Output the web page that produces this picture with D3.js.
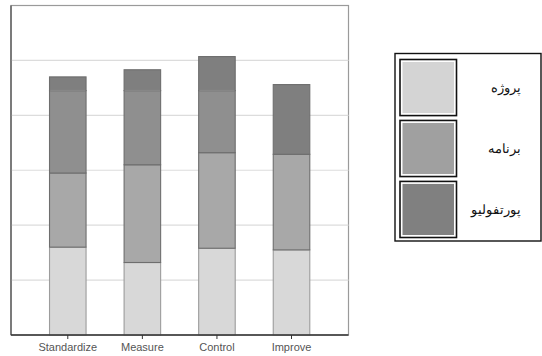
<!DOCTYPE html>
<html>
<head>
<meta charset="utf-8">
<script src="https://cdn.jsdelivr.net/npm/d3@7/dist/d3.min.js"></script>
<style>
  html, body { margin: 0; padding: 0; background: #fff; }
  svg { display: block; }
</style>
</head>
<body>
<svg id="chart" width="542" height="356"></svg>
<script>
// Categories along the x axis
const categories = ["Standardize", "Measure", "Control", "Improve"];

// Stacked layers, bottom to top
const projectValues   = [16.0, 13.2, 15.8, 15.5];
const programValues   = [13.5, 17.8, 17.4, 17.4];
const programUpper    = [15.0, 13.5, 11.3, 0.0];
const portfolioValues = [2.5, 3.8, 6.2, 12.7];

const layerKeys   = ["project", "program", "programUpper", "portfolio"];
const layerColors = ["#d8d8d8", "#a8a8a8", "#8f8f8f", "#7f7f7f"];

// Legend entries
const legendLabels = ["پروژه", "برنامه", "پورتفولیو"];
const legendColors = ["#d4d4d4", "#a0a0a0", "#808080"];

// Gridline values
const gridTicks = [10, 20, 30, 40, 50];

const rows = categories.map((c, i) => ({
  category: c,
  project: projectValues[i],
  program: programValues[i],
  programUpper: programUpper[i],
  portfolio: portfolioValues[i]
}));

const svg = d3.select("#chart");

const plot = { left: 11, right: 348.5, top: 5.5, bottom: 335 };

const x = d3.scaleBand()
  .domain(categories)
  .range([30.5, 328.8])
  .paddingInner(0.51)
  .paddingOuter(0.255);

const y = d3.scaleLinear()
  .domain([0, 60])
  .range([plot.bottom, plot.top]);

// Plot frame
svg.append("rect")
  .attr("x", plot.left).attr("y", plot.top)
  .attr("width", plot.right - plot.left).attr("height", plot.bottom - plot.top)
  .attr("fill", "none").attr("stroke", "#9a9a9a").attr("stroke-width", 1.2);

// Horizontal gridlines
svg.append("g")
  .selectAll("line")
  .data(gridTicks)
  .join("line")
  .attr("x1", plot.left).attr("x2", plot.right)
  .attr("y1", d => y(d)).attr("y2", d => y(d))
  .attr("stroke", "#dcdcdc").attr("stroke-width", 1.2);

// Stacked bars
const stack = d3.stack().keys(layerKeys);
const series = stack(rows);

svg.append("g")
  .selectAll("g")
  .data(series)
  .join("g")
  .attr("fill", (d, i) => layerColors[i])
  .selectAll("rect")
  .data(d => d.filter(s => s[1] - s[0] > 0))
  .join("rect")
  .attr("x", d => x(d.data.category))
  .attr("y", d => y(d[1]))
  .attr("width", x.bandwidth())
  .attr("height", d => y(d[0]) - y(d[1]))
  .attr("stroke", function () {
    const k = d3.select(this.parentNode).datum().key;
    return k === "project" ? "#9c9c9c" : "#6e6e6e";
  })
  .attr("stroke-width", 1.1);

// Where the upper program band meets the portfolio cap, the two shades
// join without a dividing line
const capJoins = series[3].filter((s, i) => programUpper[i] > 0 && s[1] - s[0] > 0);
svg.append("g")
  .selectAll("rect")
  .data(capJoins)
  .join("rect")
  .attr("x", d => x(d.data.category) + 0.6)
  .attr("y", d => y(d[0]) - 0.8)
  .attr("width", x.bandwidth() - 1.2)
  .attr("height", 1.6)
  .attr("fill", "#878787");

// Left axis line
svg.append("line")
  .attr("x1", plot.left).attr("x2", plot.left)
  .attr("y1", plot.top).attr("y2", plot.bottom)
  .attr("stroke", "#555").attr("stroke-width", 1.3);

// Bottom axis
const xAxis = svg.append("g")
  .attr("transform", `translate(0,${plot.bottom})`)
  .call(d3.axisBottom(x).tickSize(4).tickSizeOuter(0));
xAxis.select(".domain").remove();
xAxis.selectAll(".tick line").attr("stroke", "#333");
xAxis.selectAll(".tick text")
  .attr("font-family", "Arial, 'Liberation Sans', sans-serif")
  .attr("font-size", 11)
  .attr("fill", "#555")
  .attr("dy", "0.85em");
svg.append("line")
  .attr("x1", plot.left).attr("x2", plot.right)
  .attr("y1", plot.bottom).attr("y2", plot.bottom)
  .attr("stroke", "#333").attr("stroke-width", 1.3);

// Legend
const legend = svg.append("g");
legend.append("rect")
  .attr("x", 395).attr("y", 53.5)
  .attr("width", 146).attr("height", 187.5)
  .attr("fill", "#fff").attr("stroke", "#111").attr("stroke-width", 1.4);

const ly = d3.scaleBand()
  .domain(legendLabels)
  .range([59.5, 237.5])
  .paddingInner(0.08);

const item = legend.selectAll("g.item")
  .data(legendLabels)
  .join("g")
  .attr("class", "item");

item.append("rect")
  .attr("x", 400).attr("y", d => ly(d))
  .attr("width", 56.5).attr("height", ly.bandwidth())
  .attr("fill", "#fff").attr("stroke", "#111").attr("stroke-width", 1.6);
item.append("rect")
  .attr("x", 402.5).attr("y", d => ly(d) + 2.5)
  .attr("width", 51.5).attr("height", ly.bandwidth() - 5)
  .attr("fill", (d, i) => legendColors[i]);

item.append("text")
  .attr("x", 521)
  .attr("y", d => ly(d) + ly.bandwidth() / 2)
  .attr("dy", "0.35em")
  .attr("text-anchor", "end")
  .attr("font-family", "'DejaVu Serif', 'Liberation Serif', serif")
  .attr("font-size", 13)
  .attr("fill", "#111")
  .text(d => d);
</script>
</body>
</html>
